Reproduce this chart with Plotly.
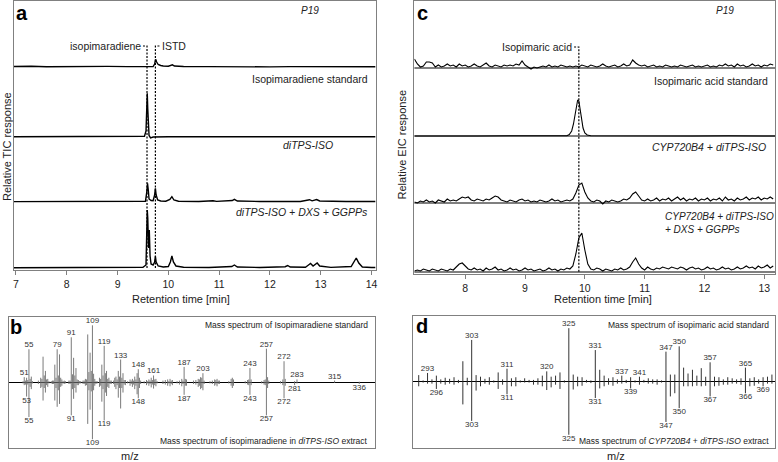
import plotly.graph_objects as go

W, H = 778, 462
FONT = "Liberation Sans, Arial, Helvetica, sans-serif"

# ---------------- Panel a: TIC chromatograms (time [min], relative response) ----------------
a_p19_t = [6.96, 7.3, 7.6, 8.0, 8.4, 8.8, 9.2, 9.5, 9.7, 9.73, 9.75, 9.77, 9.8, 9.85, 9.9, 10.0,
           10.05, 10.08, 10.12, 10.3, 10.8, 11.2, 11.6, 12.0, 12.4, 12.8, 13.2, 13.6, 14.08]
a_p19_y = [0.5, 0.8, 0.3, 0.6, 0.2, 0.6, 0.4, 0.5, 0.5, 3, 7.7, 5, 2.5, 1.5, 1, 0.8,
           1.5, 2.2, 1, 0.5, 0.4, 0.2, 0.5, 0.1, 0.4, 0.3, 0.6, 0.2, 0.3]

a_std_t = [6.96, 7.5, 8.0, 8.5, 9.0, 9.45, 9.53, 9.56, 9.575, 9.585, 9.595, 9.605, 9.62, 9.65,
           9.7, 10.0, 10.5, 11.0, 11.5, 12.0, 12.5, 13.0, 13.5, 14.08]
a_std_y = [0.3, 0.3, 0.2, 0.3, 0.3, 0.4, 0.8, 6, 30, 43.7, 28, 8, 1.5, -0.8,
           0, 0.2, 0.3, 0.2, 0.4, 0.3, 0.5, 0.3, 0.4, 0.3]

a_iso_t = [6.96, 7.5, 8.0, 8.4, 8.8, 9.3, 9.55, 9.575, 9.59, 9.605, 9.62, 9.66, 9.7, 9.73, 9.745,
           9.76, 9.79, 9.85, 9.95, 10.03, 10.07, 10.11, 10.2, 10.6, 10.88, 10.95, 11.26, 11.3,
           11.36, 11.8, 12.2, 12.5, 12.6, 12.78, 12.83, 12.92, 12.98, 13.5, 14.08]
a_iso_y = [0.4, 0.5, 0.8, 1.0, 0.5, 0.5, 0.8, 10, 18.7, 12, 3, 1.5, 1.2, 7, 13.7,
           7, 2, 1, 0.8, 2.5, 5.3, 2, 0.8, 0.5, 1.2, 0.6, 1.5, 2.7,
           1, 0.5, 0.6, 1.2, 0.5, 2.3, 1.2, 2.5, 1, 0.5, 0.5]

a_dxs_t = [6.96, 7.5, 8.0, 8.3, 8.7, 9.2, 9.5, 9.56, 9.575, 9.585, 9.595, 9.61, 9.625, 9.64, 9.66,
           9.7, 9.73, 9.745, 9.76, 9.8, 9.9, 10.0, 10.04, 10.07, 10.1, 10.15, 10.3, 10.8, 11.25,
           11.3, 11.36, 11.8, 12.3, 12.35, 12.4, 12.7, 12.76, 12.8, 12.85, 12.9, 12.93, 12.98,
           13.2, 13.6, 13.66, 13.7, 13.75, 13.82, 14.0, 14.08]
a_dxs_y = [0.3, 0.4, 0.9, 0.4, 0.5, 0.5, 0.7, 3, 40, 58, 50, 20, 38, 12, 4,
           3, 6, 11.6, 6, 2, 1, 1.5, 6, 12, 6, 2, 0.8, 0.5, 1.5,
           3, 1, 0.5, 1.3, 2.5, 1, 0.8, 3, 4.5, 2, 3.5, 5, 2,
           0.6, 1.5, 6, 10, 5, 1, 0.5, 0.5]

a_labels = ["Isopimaradiene standard", "<i>diTPS-ISO</i>", "<i>diTPS-ISO + DXS + GGPPs</i>"]
a_marker_times = [9.58, 9.745]
a_marker_names = ["isopimaradiene", "ISTD"]
a_ticks = [7, 8, 9, 10, 11, 12, 13, 14]

# ---------------- Panel c: EIC chromatograms ----------------
c_grid_t = [7.15, 7.20, 7.25, 7.30, 7.35, 7.40, 7.45, 7.50, 7.55, 7.60, 7.65, 7.70, 7.75, 7.80, 7.85, 7.90, 7.95, 8.00, 8.05, 8.10,
            8.15, 8.20, 8.25, 8.30, 8.35, 8.40, 8.45, 8.50, 8.55, 8.60, 8.65, 8.70, 8.75, 8.80, 8.85, 8.90, 8.95, 9.00, 9.05, 9.10,
            9.15, 9.20, 9.25, 9.30, 9.35, 9.40, 9.45, 9.50, 9.55, 9.60, 9.65, 9.70, 9.75, 9.80, 9.85, 9.90, 9.95, 10.00, 10.05, 10.10,
            10.15, 10.20, 10.25, 10.30, 10.35, 10.40, 10.45, 10.50, 10.55, 10.60, 10.65, 10.70, 10.75, 10.80, 10.85, 10.90, 10.95, 11.00, 11.05, 11.10,
            11.15, 11.20, 11.25, 11.30, 11.35, 11.40, 11.45, 11.50, 11.55, 11.60, 11.65, 11.70, 11.75, 11.80, 11.85, 11.90, 11.95, 12.00, 12.05, 12.10,
            12.15, 12.20, 12.25, 12.30, 12.35, 12.40, 12.45, 12.50, 12.55, 12.60, 12.65, 12.70, 12.75, 12.80, 12.85, 12.90, 12.95, 13.00, 13.05, 13.10,
            13.15]
c_p19_y = [9, 4, 1, 2, 6, 6, 5, 1, 3, 1, 2, 4, 2, 3, 1, 4, 2, 3, 1, 2,
           4, 2, 1, 3, 5, 2, 1, 3, 2, 1, 3, 2, 3, 2, 4, 3, 7, 3, 1, -1,
           1, 0, 1, 2, 1, 3, 1, 2, 1, 3, 2, 1, 2, 1, 2, 1, 3, 2, 1, 3,
           2, 1, 2, 4, 2, 1, 2, 3, 1, 2, 4, 2, 3, 8, 5, 3, 2, 3, 1, 2,
           3, 1, 2, 1, 3, 2, 1, 2, 1, 3, 2, 1, 2, 3, 1, 2, 1, 2, 3, 1,
           2, 1, 3, 2, 4, 2, 3, 1, 4, 2, 3, 1, 2, 4, 2, 3, 1, 3, 2, 4,
           3]
c_cyp_y = [1, 0, 2, 1, 3, 1, 2, 0, 3, 2, 1, 4, 2, 3, 2, 4, 6, 5, 6, 3,
           2, 4, 3, 2, 4, 3, 5, 7, 6, 3, 2, 1, 3, 2, 1, 3, 4, 2, 3, 1,
           2, 1, 3, 2, 1, 2, 4, 2, 3, 1, 2, 3, 2, 4, 10, 18, 20, 11, 5, 2,
           1, 3, 2, -1, 2, 1, 3, 2, 1, 2, 4, 3, 5, 9, 11, 7, 3, 2, 4, 2,
           3, 5, 2, 4, 3, 5, 2, 4, 6, 3, 5, 2, 4, 3, 5, 2, 4, 3, 5, 2,
           4, 3, 5, 2, 6, 3, 4, 2, 5, 3, 4, 6, 3, 5, 4, 6, 3, 5, 4, 6,
           4]
c_dxs_y = [1, 2, 1, 3, 2, 1, 3, 2, 1, 3, 2, 1, 3, 2, 5, 8, 9, 6, 3, 2,
           4, 2, 3, 1, 4, 2, 3, 5, 2, 3, 1, 2, 4, 2, 3, 1, 2, 4, 2, 3,
           1, 2, 3, 1, 2, 4, 2, 3, 1, 3, 2, 4, 3, 6, 18, 34, 39, 22, 8, 3,
           2, 4, 3, 1, 3, 2, 1, 3, 2, 4, 2, 3, 5, 10, 14, 8, 4, 2, 5, 3,
           2, 4, 3, 5, 4, 3, 5, 4, 3, 5, 4, 2, 4, 5, 3, 4, 2, 3, 5, 3,
           4, 2, 3, 5, 3, 4, 2, 3, 5, 3, 4, 6, 4, 5, 3, 6, 4, 5, 7, 4,
           6]
c_std_t = [7.15, 7.6, 8.2, 8.8, 9.4, 9.70, 9.74, 9.78, 9.81, 9.84, 9.86, 9.88, 9.90, 9.92, 9.94,
           9.97, 10.00, 10.04, 10.10, 10.6, 11.2, 11.8, 12.4, 13.18]
c_std_y = [0, 0.3, 0, 0.3, 0, 0.2, 1.5, 5, 12, 24, 32, 36, 35, 28, 18,
           8, 3, 1, 0.3, 0, 0.3, 0, 0.2, 0]
c_marker_times = [9.9]
c_marker_names = ["Isopimaric acid"]
c_ticks = [8, 9, 10, 11, 12, 13]

# ---------------- Panel b: mass spectra (m/z, relative abundance %) ----------------
b_mz = [50, 51, 52, 53, 54, 55, 56, 57, 58,
        63, 65, 66, 67, 68, 69, 70, 71, 72,
        74, 75, 76, 77, 78, 79, 80, 81, 82, 83, 84, 85, 86,
        89, 90, 91, 92, 93, 94, 95, 96, 97, 98, 99,
        101, 102, 103, 104, 105, 106, 107, 108, 109, 110, 111, 112, 113,
        115, 116, 117, 118, 119, 120, 121, 122, 123, 124, 125,
        127, 128, 129, 130, 131, 132, 133, 134, 135, 136, 137,
        139, 141, 142, 143, 144, 145, 146, 147, 148, 149, 150,
        153, 155, 156, 157, 158, 159, 160, 161, 162, 163, 164,
        169, 171, 173, 174, 175, 176, 177,
        181, 183, 185, 186, 187, 188, 189,
        195, 197, 199, 200, 201, 202, 203, 204,
        209, 211, 213, 214, 215, 216, 217,
        225, 227, 228, 229,
        239, 241, 242, 243, 244,
        253, 255, 256, 257, 258, 259,
        269, 271, 272, 273,
        281, 283, 315, 336]
b_std = [2, 9, 3, 8, 4, 58, 6, 10, 2,
         3, 8, 6, 45, 12, 20, 5, 6, 2,
         2, 3, 3, 31, 8, 58, 12, 49, 8, 5, 2, 3, 2,
         3, 3, 79, 14, 43, 12, 25, 5, 4, 2, 2,
         3, 3, 6, 5, 84, 18, 52, 20, 100, 15, 6, 2, 2,
         8, 6, 31, 12, 64, 16, 20, 6, 8, 3, 3,
         3, 8, 10, 5, 20, 10, 40, 8, 16, 4, 4,
         2, 5, 3, 6, 3, 10, 5, 16, 23, 8, 3,
         2, 4, 2, 5, 3, 8, 4, 12, 5, 6, 2,
         3, 4, 5, 2, 6, 3, 4,
         2, 3, 6, 3, 27, 6, 5,
         3, 4, 6, 5, 9, 8, 16, 3,
         2, 3, 5, 4, 6, 3, 3,
         2, 6, 8, 5,
         2, 4, 5, 25, 5,
         2, 4, 5, 59, 9, 3,
         2, 5, 37, 6,
         2, 5, 3, 1]
b_ext = [2, 5, 4, 25, 4, 61, 8, 12, 2,
         3, 10, 8, 32, 10, 18, 5, 8, 2,
         2, 3, 3, 32, 10, 43, 14, 38, 8, 6, 2, 3, 2,
         3, 3, 58, 12, 29, 10, 18, 5, 5, 2, 2,
         3, 3, 6, 5, 73, 14, 48, 16, 100, 14, 6, 3, 2,
         8, 6, 34, 12, 67, 18, 24, 8, 10, 3, 3,
         3, 8, 12, 5, 27, 10, 46, 10, 18, 4, 5,
         2, 6, 3, 8, 4, 12, 6, 21, 28, 10, 3,
         2, 5, 2, 6, 3, 9, 4, 11, 5, 7, 2,
         3, 4, 6, 2, 7, 3, 5,
         2, 4, 7, 3, 22, 6, 6,
         3, 4, 8, 6, 12, 10, 14, 3,
         2, 3, 6, 4, 7, 3, 3,
         2, 6, 10, 6,
         2, 4, 5, 22, 5,
         2, 4, 5, 58, 10, 3,
         2, 5, 28, 6,
         5, 2, 1, 3]
b_top_labels = [51, 55, 79, 91, 109, 119, 133, 148, 161, 187, 203, 243, 257, 272, 283, 315]
b_bot_labels = [53, 55, 91, 109, 119, 148, 187, 243, 257, 272, 281, 336]

# ---------------- Panel d: mass spectra ----------------
d_mz = [291, 292, 293, 294, 295, 296, 297, 298, 299, 300,
        301, 302, 303, 304, 305, 306, 307, 308, 309, 310,
        311, 312, 313, 314, 315, 316, 317, 318, 319, 320,
        321, 322, 323, 324, 325, 326, 327, 328, 329, 330,
        331, 332, 333, 334, 335, 336, 337, 338, 339, 340,
        341, 342, 343, 344, 345, 346, 347, 348, 349, 350,
        351, 352, 353, 354, 355, 356, 357, 358, 359, 360,
        361, 362, 363, 364, 365, 366, 367, 368, 369, 370, 371]
d_std = [12, 2, 16, 4, 11, 4, 7, 5, 8, 3,
         38, 7, 78, 12, 9, 5, 8, 2, 17, 4,
         24, 6, 8, 2, 6, 3, 3, 6, 11, 19,
         9, 11, 17, 2, 100, 13, 9, 8, 3, 2,
         59, 22, 11, 6, 8, 4, 11, 3, 8, 2,
         9, 3, 6, 4, 4, 2, 56, 13, 13, 66,
         26, 15, 22, 11, 25, 9, 36, 9, 8, 4,
         8, 6, 4, 6, 26, 6, 8, 4, 8, 9, 13]
d_ext = [9, 2, 4, 4, 14, 4, 6, 4, 6, 3,
         43, 7, 74, 17, 9, 4, 6, 2, 14, 6,
         24, 9, 9, 2, 2, 2, 6, 6, 9, 16,
         11, 6, 14, 2, 100, 15, 9, 8, 2, 3,
         31, 13, 9, 6, 8, 4, 4, 3, 13, 2,
         6, 2, 4, 4, 6, 2, 76, 28, 22, 50,
         9, 9, 9, 8, 9, 8, 28, 9, 8, 6,
         6, 4, 4, 6, 22, 9, 8, 4, 9, 4, 4]
d_top_label_mz = [293, 303, 311, 320, 325, 331, 337, 341, 347, 350, 357, 365]
d_top_label_txt = ["293", "303", "311", "320", "325", "331", "337", "341", "347", "350", "357", "365"]
d_bot_label_mz = [295, 303, 311, 325, 331, 339, 347, 350, 357, 365, 369]
d_bot_label_txt = ["296", "303", "311", "325", "331", "339", "347", "350", "367", "366", "369"]

# ---------------- helpers ----------------
def px(x):
    return x / W

def py(y):
    return 1 - y / H

fig = go.Figure()
annotations = []
shapes = []

def ann(x, y, text, size=10.5, xanchor="center", yanchor="middle", color="#222",
        angle=0, align="left", xref="paper", yref="paper"):
    annotations.append(dict(x=x, y=y, xref=xref, yref=yref, text=text, showarrow=False,
                            xanchor=xanchor, yanchor=yanchor, textangle=angle, align=align,
                            font=dict(family=FONT, size=size, color=color)))

# ---- Panel a traces (stack offsets in axis units; 1 unit = 1 px) ----
a_offsets = [203, 133, 68, 2]
a_series = [(a_p19_t, a_p19_y), (a_std_t, a_std_y), (a_iso_t, a_iso_y), (a_dxs_t, a_dxs_y)]
for off, (t, v) in zip(a_offsets, a_series):
    fig.add_trace(go.Scatter(x=t, y=[val + off for val in v], xaxis="x", yaxis="y", mode="lines",
                             line=dict(color="black", width=1.4), hoverinfo="skip", showlegend=False))

mk_top_a = 224
for i, (tm, name) in enumerate(zip(a_marker_times, a_marker_names)):
    if i == 0:
        xs, ys = [tm - 0.08, tm, tm], [mk_top_a, mk_top_a, 2]
        ann(tm - 0.085, mk_top_a, name, xref="x", yref="y", xanchor="right", size=10.5)
    else:
        xs, ys = [tm + 0.08, tm, tm], [mk_top_a, mk_top_a, 2]
        ann(tm + 0.085, mk_top_a, name, xref="x", yref="y", xanchor="left", size=10.5)
    fig.add_trace(go.Scatter(x=xs, y=ys, xaxis="x", yaxis="y", mode="lines",
                             line=dict(color="black", width=1.2, dash="2px,1.5px"),
                             hoverinfo="skip", showlegend=False))

# ---- Panel c traces ----
c_offsets = [206, 138, 71, 2]
c_series = [(c_grid_t, c_p19_y), (c_std_t, c_std_y), (c_grid_t, c_cyp_y), (c_grid_t, c_dxs_y)]
for off in c_offsets:
    shapes.append(dict(type="line", xref="x2 domain", x0=0, x1=1, yref="y2", y0=off, y1=off,
                       line=dict(color="black", width=1.2)))
for off, (t, v) in zip(c_offsets, c_series):
    fig.add_trace(go.Scatter(x=t, y=[val + off for val in v], xaxis="x2", yaxis="y2", mode="lines",
                             line=dict(color="black", width=1.1), hoverinfo="skip", showlegend=False))
mk_top_c = 227
for tm, name in zip(c_marker_times, c_marker_names):
    fig.add_trace(go.Scatter(x=[tm - 0.08, tm, tm], y=[mk_top_c, mk_top_c, 1], xaxis="x2", yaxis="y2",
                             mode="lines", line=dict(color="black", width=1.2, dash="2px,1.5px"),
                             hoverinfo="skip", showlegend=False))
    ann(tm - 0.085, mk_top_c, name, xref="x2", yref="y2", xanchor="right", size=10.5)

# ---- Panel b / d stick spectra ----
def sticks(mz, up, down, xa, ya, color):
    xs, ys = [], []
    for m, u, d in zip(mz, up, down):
        xs += [m, m, None, m, m, None]
        ys += [0, u, None, 0, -d, None]
    fig.add_trace(go.Scatter(x=xs, y=ys, xaxis=xa, yaxis=ya, mode="lines",
                             line=dict(color=color, width=1), hoverinfo="skip", showlegend=False))

def stick_labels(pos, txt, lookup, sign, xa, ya):
    ys = [sign * lookup[p] for p in pos]
    fig.add_trace(go.Scatter(x=pos, y=ys, xaxis=xa, yaxis=ya, mode="text", text=txt,
                             textposition="top center" if sign > 0 else "bottom center",
                             textfont=dict(family=FONT, size=8, color="#333"),
                             hoverinfo="skip", showlegend=False))

sticks(b_mz, b_std, b_ext, "x3", "y3", "#7a7a7a")
stick_labels(b_top_labels, [str(v) for v in b_top_labels], dict(zip(b_mz, b_std)), 1, "x3", "y3")
stick_labels(b_bot_labels, [str(v) for v in b_bot_labels], dict(zip(b_mz, b_ext)), -1, "x3", "y3")

sticks(d_mz, d_std, d_ext, "x4", "y4", "#333")
stick_labels(d_top_label_mz, d_top_label_txt, dict(zip(d_mz, d_std)), 1, "x4", "y4")
stick_labels(d_bot_label_mz, d_bot_label_txt, dict(zip(d_mz, d_ext)), -1, "x4", "y4")

# ---- axes ----
frame = dict(showline=True, mirror=True, linecolor="#808080", linewidth=1, showgrid=False, zeroline=False)
tickfont = dict(family=FONT, size=10.5, color="#222")

fig.update_layout(
    xaxis=dict(domain=[px(13), px(376)], range=[6.96, 14.08], anchor="y", tickvals=a_ticks,
               ticks="outside", ticklen=4, tickcolor="#808080", tickfont=tickfont, **frame),
    yaxis=dict(domain=[py(270), py(1)], range=[0, 269], anchor="x", showticklabels=False, **frame),
    xaxis2=dict(domain=[px(415), px(777)], range=[7.15, 13.18], anchor="y2", tickvals=c_ticks,
                ticks="outside", ticklen=4, tickcolor="#808080", tickfont=tickfont, **frame),
    yaxis2=dict(domain=[py(274), py(1)], range=[0, 273], anchor="x2", showticklabels=False, **frame),
    xaxis3=dict(domain=[px(8), px(375)], range=[38, 349], anchor="y3", showticklabels=False, **frame),
    yaxis3=dict(domain=[py(448), py(317)], range=[-115.3, 114.6], anchor="x3", showticklabels=False,
                **{**frame, "zeroline": True, "zerolinecolor": "black", "zerolinewidth": 1.5}),
    xaxis4=dict(domain=[px(414), px(777)], range=[289.8, 371.7], anchor="y4", showticklabels=False, **frame),
    yaxis4=dict(domain=[py(448), py(316)], range=[-124.8, 122.9], anchor="x4", showticklabels=False,
                **{**frame, "zeroline": True, "zerolinecolor": "black", "zerolinewidth": 1.5}),
)

# ---- text annotations ----
ann(px(21), py(13), "<b>a</b>", size=20, color="black")
ann(px(423), py(13), "<b>c</b>", size=20, color="black")
ann(px(15), py(327), "<b>b</b>", size=20, color="black")
ann(px(423), py(326), "<b>d</b>", size=20, color="black")
ann(px(310), py(10), "<i>P19</i>", size=10)
ann(px(727), py(10), "<i>P19</i>", size=10)

ann(px(370), py(79), a_labels[0], xanchor="right")
ann(px(335), py(145), a_labels[1], xanchor="right")
ann(px(370), py(212), a_labels[2], xanchor="right")

ann(px(772), py(81), "Isopimaric acid standard", xanchor="right")
ann(px(770), py(147), "<i>CYP720B4 + diTPS-ISO</i>", xanchor="right")
ann(px(665), py(223), "<i>CYP720B4 + diTPS-ISO</i><br><i>+ DXS + GGPPs</i>", xanchor="left", size=10)

ann(px(181), py(299), "Retention time [min]", size=11)
ann(px(604), py(299), "Retention time [min]", size=11)
ann(px(6), py(146), "Relative TIC response", size=11, angle=-90)
ann(px(403), py(145), "Relative EIC response", size=11, angle=-90)

ann(px(370), py(325), "Mass spectrum of Isopimaradiene standard", size=8.5, xanchor="right")
ann(px(370), py(441), "Mass spectrum of isopimaradiene in <i>diTPS-ISO</i> extract", size=8.5, xanchor="right")
ann(px(773), py(325), "Mass spectrum of isopimaric acid standard", size=8.5, xanchor="right")
ann(px(773), py(441), "Mass spectrum of <i>CYP720B4</i> + <i>diTPS-ISO</i> extract", size=8.5, xanchor="right")
ann(px(130), py(456), "m/z", size=11)
ann(px(617), py(456), "m/z", size=11)

fig.update_layout(width=W, height=H, margin=dict(l=0, r=0, t=0, b=0),
                  paper_bgcolor="white", plot_bgcolor="white",
                  annotations=annotations, shapes=shapes, showlegend=False,
                  font=dict(family=FONT))

fig.write_html("out.html", config={"displayModeBar": False, "staticPlot": True},
               post_script="document.body.style.margin='0';document.body.style.padding='0';"
                           "document.body.style.overflow='hidden';")
